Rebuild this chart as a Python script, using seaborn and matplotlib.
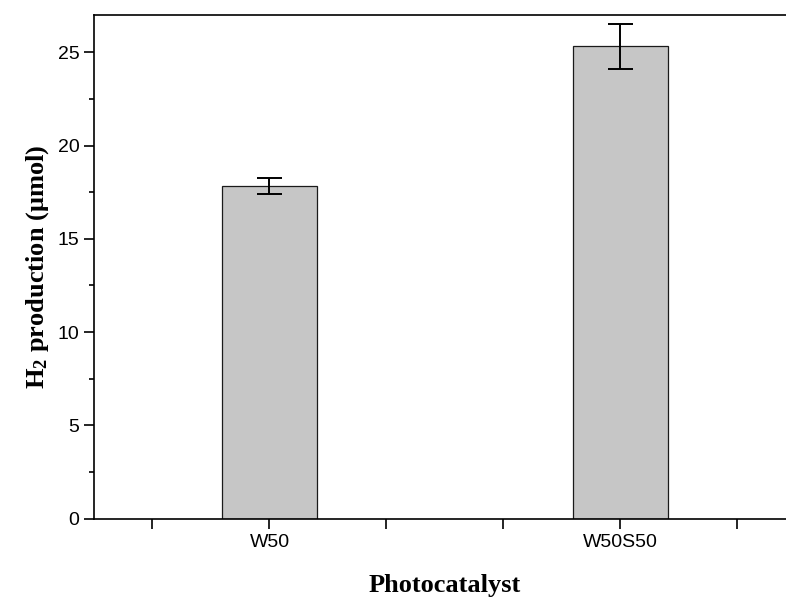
import numpy as np
import pandas as pd
import matplotlib
matplotlib.use("Agg")
import matplotlib.pyplot as plt
import seaborn as sns

# --- DATA ---
catalysts = ['W50', 'W50S50']
h2_umol = [17.83, 25.33]
h2_err = [0.45, 1.21]

# --- STYLE ---
sns.set_theme(style="ticks")
plt.rcParams['font.family'] = ['Liberation Sans', 'DejaVu Sans']
plt.rcParams['mathtext.fontset'] = 'custom'
plt.rcParams['mathtext.rm'] = 'Liberation Serif:bold'
plt.rcParams['mathtext.it'] = 'Liberation Serif:italic:bold'
plt.rcParams['mathtext.bf'] = 'Liberation Serif:bold'
for key in ['text.color', 'axes.labelcolor', 'xtick.color', 'ytick.color']:
    plt.rcParams[key] = 'black'

df = pd.DataFrame({'Photocatalyst': catalysts, 'H2': h2_umol, 'err': h2_err})

fig = plt.figure(figsize=(7.86, 6.0), dpi=100)
ax = fig.add_axes([0.1196, 0.1358, 0.893, 0.839])

sns.barplot(data=df, x='Photocatalyst', y='H2', ax=ax, width=0.27,
            color='#c6c6c6', edgecolor='#1a1a1a', linewidth=0.9,
            saturation=1, errorbar=None)
ax.errorbar(range(len(df)), df['H2'], yerr=df['err'], fmt='none',
            ecolor='black', elinewidth=1.4, capsize=9, capthick=1.4)

# axes
ax.set_xlim(-0.5, 1.5)
ax.set_ylim(0, 27)
ax.set_xticks([-1/3, 0, 1/3, 2/3, 1, 4/3])
ax.set_xticklabels(['', 'W50', '', '', 'W50S50', ''], fontsize=14)
ax.set_yticks(np.arange(0, 26, 5))
ax.set_yticks(np.arange(2.5, 27, 5), minor=True)
ax.tick_params(axis='y', labelsize=14)
ax.tick_params(axis='both', which='major', length=7, width=1.2, color='black', direction='out')
ax.tick_params(axis='y', which='minor', length=3.5, width=1.2, color='black', left=True)
ax.tick_params(axis='x', which='major', pad=4)

for side in ['left', 'bottom', 'top']:
    ax.spines[side].set_visible(True)
    ax.spines[side].set_linewidth(1.2)
    ax.spines[side].set_color('black')
ax.spines['right'].set_visible(False)

ax.set_xlabel('Photocatalyst', fontsize=19, fontweight='bold',
              family='Liberation Serif', labelpad=17)
ax.set_ylabel('H$_2$ production (\u03bcmol)', fontsize=19, fontweight='bold',
              family='Liberation Serif', labelpad=5)

fig.savefig('out.png', dpi=100)
